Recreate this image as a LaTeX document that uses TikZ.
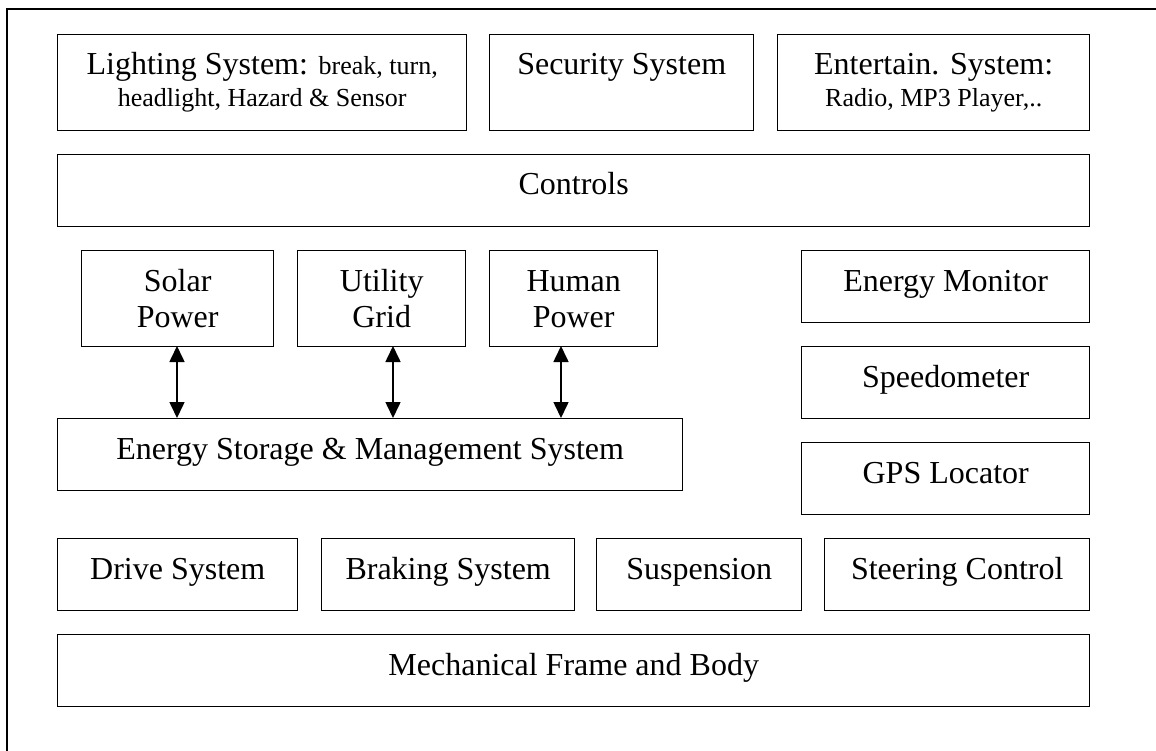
\documentclass[tikz,border=0pt]{standalone}
\usepackage{fontspec}
\setmainfont{Liberation Serif}
\usetikzlibrary{arrows.meta}
\begin{document}
\begin{tikzpicture}[x=1pt,y=-1pt,
  box/.style={draw=black, line width=1.4pt, inner sep=0pt, anchor=north west},
  big/.style={inner sep=0pt, anchor=base, font=\fontsize{32}{36}\selectfont},
  small/.style={inner sep=0pt, anchor=base, font=\fontsize{26}{30}\selectfont},
  link/.style={line width=1.6pt, {Triangle[width=15pt,length=16pt]}-{Triangle[width=15pt,length=16pt]}}
]
\useasboundingbox (0,0) rectangle (1156,751);
% outer frame (only left and top edges visible)
\coordinate (fbl) at (7,751);
\coordinate (ftl) at (7,9);
\coordinate (ftr) at (1156,9);
\draw[line width=2pt] (fbl) -- (ftl) -- (ftr);

% top row
\node[box, minimum width=409pt, minimum height=96pt] (light) at (57,34) {};
\node[big] (lightA) at ([yshift=-41pt]light.north) {Lighting System: {\fontsize{26}{30}\selectfont break, turn,}};
\node[small] (lightB) at ([yshift=-73pt]light.north) {headlight, Hazard \& Sensor};

\node[box, minimum width=264pt, minimum height=96pt] (sec) at (489,34) {};
\node[big] (secT) at ([yshift=-41pt]sec.north) {Security System};

\node[box, minimum width=312pt, minimum height=96pt] (ent) at (777,34) {};
\node[big] (entA) at ([yshift=-41pt]ent.north) {Entertain. System:};
\node[small] (entB) at ([yshift=-73pt]ent.north) {Radio, MP3 Player,..};

% controls
\node[box, minimum width=1032pt, minimum height=72pt] (ctrl) at (57,154) {};
\node[big] (ctrlT) at ([yshift=-41pt]ctrl.north) {Controls};

% power sources
\node[box, minimum width=192pt, minimum height=96pt] (solar) at (81,250) {};
\node[big] (solarA) at ([yshift=-41pt]solar.north) {Solar};
\node[big] (solarB) at ([yshift=-77pt]solar.north) {Power};

\node[box, minimum width=168pt, minimum height=96pt] (util) at (297,250) {};
\node[big] (utilA) at ([yshift=-41pt]util.north) {Utility};
\node[big] (utilB) at ([yshift=-77pt]util.north) {Grid};

\node[box, minimum width=168pt, minimum height=96pt] (human) at (489,250) {};
\node[big] (humanA) at ([yshift=-41pt]human.north) {Human};
\node[big] (humanB) at ([yshift=-77pt]human.north) {Power};

% right column
\node[box, minimum width=288pt, minimum height=72pt] (emon) at (801,250) {};
\node[big] (emonT) at ([yshift=-41pt]emon.north) {Energy Monitor};
\node[box, minimum width=288pt, minimum height=72pt] (speed) at (801,346) {};
\node[big] (speedT) at ([yshift=-41pt]speed.north) {Speedometer};
\node[box, minimum width=288pt, minimum height=72pt] (gps) at (801,442) {};
\node[big] (gpsT) at ([yshift=-41pt]gps.north) {GPS Locator};

% energy storage
\node[box, minimum width=625pt, minimum height=72pt] (es) at (57,418) {};
\node[big] (esT) at ([yshift=-41pt]es.north) {Energy Storage \& Management System};

% arrows
\coordinate (sA) at (177,346);
\coordinate (uA) at (393,346);
\coordinate (hA) at (561,346);
\draw[link] (sA) -- (sA |- es.north);
\draw[link] (uA) -- (uA |- es.north);
\draw[link] (hA) -- (hA |- es.north);

% bottom row
\node[box, minimum width=240pt, minimum height=72pt] (drive) at (57,538) {};
\node[big] (driveT) at ([yshift=-41pt]drive.north) {Drive System};
\node[box, minimum width=253pt, minimum height=72pt] (brake) at (321,538) {};
\node[big] (brakeT) at ([yshift=-41pt]brake.north) {Braking System};
\node[box, minimum width=205pt, minimum height=72pt] (susp) at (596,538) {};
\node[big] (suspT) at ([yshift=-41pt]susp.north) {Suspension};
\node[box, minimum width=265pt, minimum height=72pt] (steer) at (824,538) {};
\node[big] (steerT) at ([yshift=-41pt]steer.north) {Steering Control};

% frame and body
\node[box, minimum width=1032pt, minimum height=72pt] (mech) at (57,634) {};
\node[big] (mechT) at ([yshift=-41pt]mech.north) {Mechanical Frame and Body};
\end{tikzpicture}
\end{document}
